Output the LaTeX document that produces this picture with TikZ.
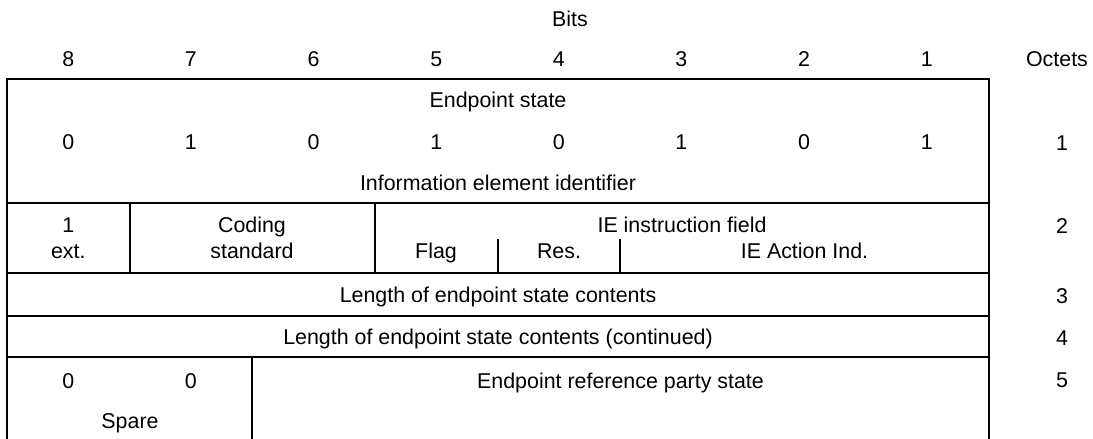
\documentclass[tikz,border=0pt]{standalone}
\usepackage{fontspec}
\setmainfont{Liberation Sans}
\begin{document}
\begin{tikzpicture}[x=1pt, y=-1pt,
        lbl/.style={font=\fontsize{21.4}{25}\selectfont, text height=15.3pt, text depth=0pt, inner sep=0pt},
        rule/.style={line width=2pt}]
            \def \xleft     {7}
            \def \xright    {989}
            \def \xmid      {498}
            \def \xoct      {1062}
            \def \xa        {68.3}
            \def \xb        {190.9}
            \def \xc        {313.6}
            \def \xd        {436.2}
            \def \xe        {558.8}
            \def \xf        {681.4}
            \def \xg        {804.1}
            \def \xh        {926.7}

            \def \ytop      {79}
            \def \yone      {203}
            \def \ysub      {239}
            \def \ytwo      {273}
            \def \ythree    {316}
            \def \yfour     {357}
            \def \ybot      {439}

            \useasboundingbox (0,0) rectangle (1093,439);
% header
            \node [lbl] (bits)  at (570, 19)      {Bits};
            \node [lbl] (b8)    at (\xa, 59)      {8};
            \node [lbl] (b7)    at (\xb, 59)      {7};
            \node [lbl] (b6)    at (\xc, 59)      {6};
            \node [lbl] (b5)    at (\xd, 59)      {5};
            \node [lbl] (b4)    at (\xe, 59)      {4};
            \node [lbl] (b3)    at (\xf, 59)      {3};
            \node [lbl] (b2)    at (\xg, 59)      {2};
            \node [lbl] (b1)    at (\xh, 59)      {1};
            \node [lbl] (octets) at (1057, 59)    {Octets};

% frame
            \draw [rule] (\xleft, \ybot) to (\xleft, \ytop) to (\xright, \ytop) to (\xright, \ybot);
            \draw [rule] (\xleft, \yone) to (\xright, \yone);
            \draw [rule] (\xleft, \ytwo) to (\xright, \ytwo);
            \draw [rule] (\xleft, \ythree) to (\xright, \ythree);
            \draw [rule] (\xleft, \yfour) to (\xright, \yfour);

% octet 1
            \node [lbl] (estate) at (\xmid, 100)  {Endpoint state};
            \node [lbl] (v8)    at (\xa, 142)     {0};
            \node [lbl] (v7)    at (\xb, 142)     {1};
            \node [lbl] (v6)    at (\xc, 142)     {0};
            \node [lbl] (v5)    at (\xd, 142)     {1};
            \node [lbl] (v4)    at (\xe, 142)     {0};
            \node [lbl] (v3)    at (\xf, 142)     {1};
            \node [lbl] (v2)    at (\xg, 142)     {0};
            \node [lbl] (v1)    at (\xh, 142)     {1};
            \node [lbl] (ieid)  at (\xmid, 183)   {Information element identifier};
            \node [lbl] (o1)    at (\xoct, 143)   {1};

% octet 2
            \draw [rule] (130, \yone) to (130, \ytwo);
            \draw [rule] (375, \yone) to (375, \ytwo);
            \draw [rule] (498, \ysub) to (498, \ytwo);
            \draw [rule] (620, \ysub) to (620, \ytwo);
            \node [lbl] (ext1)  at (\xa, 225)     {1};
            \node [lbl] (ext)   at (\xa, 251)     {ext.};
            \node [lbl] (cod)   at (252, 225)     {Coding};
            \node [lbl] (std)   at (252, 251)     {standard};
            \node [lbl] (iefld) at (682, 225)     {IE instruction field};
            \node [lbl] (flag)  at (436, 251)     {Flag};
            \node [lbl] (res)   at (559, 251)     {Res.};
            \node [lbl] (act)   at (804.5, 251)   {IE Action Ind.};
            \node [lbl] (o2)    at (\xoct, 226)   {2};

% octets 3 and 4
            \node [lbl] (len)   at (\xmid, 295)   {Length of endpoint state contents};
            \node [lbl] (o3)    at (\xoct, 296)   {3};
            \node [lbl] (lenc)  at (\xmid, 337)   {Length of endpoint state contents (continued)};
            \node [lbl] (o4)    at (\xoct, 338)   {4};

% octet 5
            \draw [rule] (252, \yfour) to (252, \ybot);
            \node [lbl] (sp8)   at (\xa, 381)     {0};
            \node [lbl] (sp7)   at (\xb, 381)     {0};
            \node [lbl] (spare) at (130, 421)     {Spare};
            \node [lbl] (eref)  at (620.5, 381)   {Endpoint reference party state};
            \node [lbl] (o5)    at (\xoct, 380)   {5};

        \end{tikzpicture}
\end{document}
